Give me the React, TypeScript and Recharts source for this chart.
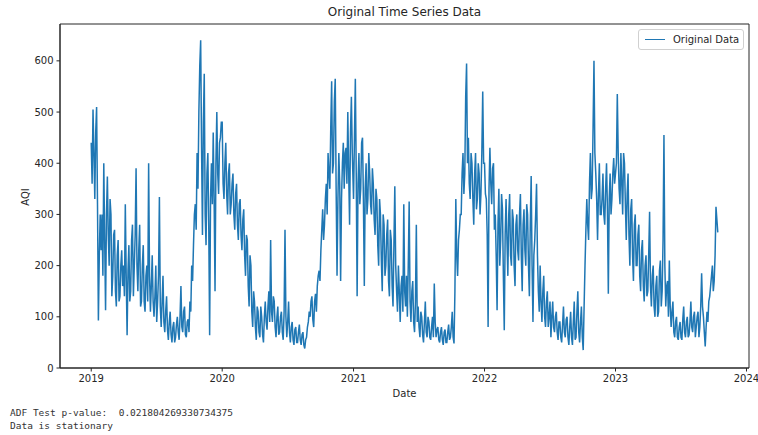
import React from "react";
import { LineChart, Line, XAxis, YAxis, ReferenceArea } from "recharts";

// AQI: one reading every 5 days from Jan 1 of each year
const aqi2019 = [
  440, 505, 330, 510, 93, 300,
  300, 400, 113, 374, 200, 300,
  180, 270, 120, 250, 140, 230,
  200, 320, 64, 240, 150, 280,
  200, 390, 150, 280, 130, 240,
  110, 200, 400, 110, 220, 100,
  200, 130, 334, 80, 180, 70,
  140, 55, 110, 50, 90, 60,
  100, 55, 160, 70, 120, 60,
  95, 130, 200, 240, 320, 420,
  500, 640, 260, 575, 240, 420,
  64, 400, 460, 150, 500, 340, 450,
];
const aqi2020 = [
  480, 330, 440, 300, 400, 320,
  380, 270, 360, 250, 330, 230,
  310, 180, 250, 120, 200, 80,
  130, 55, 110, 60, 100, 50,
  130, 75, 150, 250, 90, 130,
  60, 120, 70, 110, 55, 270,
  60, 130, 50, 90, 45, 80,
  50, 85, 45, 70, 38, 60,
  90, 100, 140, 80, 145, 160,
  190, 230, 310, 280, 360, 420,
  350, 560, 400, 565, 180, 420,
  170, 400, 350, 430, 500, 280, 530,
];
const aqi2021 = [
  330, 565, 140, 420, 350, 450,
  160, 400, 330, 380, 300, 360,
  260, 330, 200, 300, 150, 280,
  200, 290, 140, 250, 120, 355,
  150, 200, 90, 180, 320, 120,
  100, 325, 90, 170, 70, 280,
  120, 60, 100, 50, 130, 60,
  90, 55, 100, 165, 60, 80,
  50, 80, 45, 75, 50, 85,
  60, 110, 48, 330, 180, 270,
  300, 420, 380, 595, 450, 330,
  400, 280, 420, 330, 380, 340, 540,
];
const aqi2022 = [
  400, 330, 80, 430, 320, 400,
  300, 113, 350, 250, 310, 74,
  330, 180, 340, 200, 290, 160,
  300, 210, 340, 150, 310, 200,
  300, 140, 375, 90, 250, 360,
  150, 200, 90, 180, 80, 150,
  100, 60, 130, 70, 110, 55,
  90, 50, 120, 60, 100, 45,
  110, 45, 130, 60, 150, 50,
  120, 35, 200, 330, 250, 420,
  350, 600, 380, 250, 400, 300,
  380, 280, 400, 145, 380, 330, 410,
];
const aqi2023 = [
  380, 535, 350, 420, 300, 400,
  250, 380, 200, 330, 170, 300,
  200, 280, 150, 250, 130, 220,
  150, 305, 120, 200, 100, 180,
  110, 210, 150, 455, 120, 170,
  210, 80, 130, 60, 100, 55,
  90, 55, 120, 60, 100, 65,
  130, 70, 110, 80, 110, 80,
  185, 100, 42, 110, 130, 160,
  200, 170, 315, 265,
];

// readings taken half-way (2.5 days later) between the ones above
const mid2019 = [
  360, 420, 460, 320, 220, 230,
  180, 250, 300, 260, 330, 140,
  260, 150, 220, 130, 200, 160,
  140, 180, 190, 130, 250, 140,
  260, 200, 230, 120, 200, 130,
  180, 130, 180, 160, 130, 140,
  90, 180, 120, 130, 90, 110,
  75, 90, 65, 80, 50, 85,
  70, 100, 80, 110, 65, 90,
  70, 110, 170, 300, 270, 350,
  590, 430, 480, 300, 380, 280,
  330, 320, 330, 400, 380, 440, 480,
];
const mid2020 = [
  360, 400, 340, 380, 300, 360,
  300, 340, 280, 320, 260, 290,
  220, 260, 160, 220, 110, 150,
  80, 120, 70, 120, 65, 100,
  90, 120, 90, 110, 140, 80,
  100, 65, 100, 70, 110, 100,
  90, 70, 80, 55, 75, 50,
  70, 55, 65, 45, 55, 80,
  110, 130, 95, 130, 110, 180,
  170, 270, 250, 330, 300, 380,
  470, 380, 520, 350, 330, 360,
  330, 440, 420, 360, 380, 460, 420,
];
const mid2021 = [
  450, 380, 360, 320, 440, 330,
  350, 300, 420, 320, 390, 290,
  350, 240, 330, 210, 300, 180,
  260, 170, 270, 160, 240, 200,
  110, 150, 160, 110, 150, 180,
  200, 130, 150, 90, 130, 90,
  80, 110, 65, 90, 70, 100,
  60, 80, 60, 90, 75, 55,
  70, 55, 70, 50, 70, 55,
  80, 60, 150, 220, 250, 300,
  380, 340, 530, 400, 360, 420,
  330, 380, 310, 400, 300, 420, 400,
];
const mid2022 = [
  340, 260, 350, 360, 390, 270,
  220, 280, 200, 340, 180, 260,
  250, 300, 220, 310, 200, 280,
  230, 300, 220, 280, 230, 320,
  200, 280, 200, 220, 300, 220,
  110, 130, 150, 100, 130, 80,
  130, 100, 80, 100, 70, 90,
  60, 85, 70, 95, 60, 80,
  60, 90, 55, 110, 70, 90,
  60, 120, 270, 280, 360, 330,
  470, 420, 330, 340, 300, 330,
  300, 350, 310, 330, 300, 380, 360,
];
const mid2023 = [
  400, 420, 320, 360, 420, 320,
  340, 260, 310, 220, 280, 200,
  260, 180, 230, 160, 200, 140,
  220, 160, 180, 120, 160, 100,
  190, 120, 250, 200, 160, 100,
  120, 110, 70, 90, 60, 80,
  60, 95, 70, 90, 60, 90,
  80, 100, 60, 100, 60, 120,
  120, 70, 80, 90, 140, 180,
  150, 220, 290,
];

const mainSeries = [aqi2019, aqi2020, aqi2021, aqi2022, aqi2023];
const midSeries = [mid2019, mid2020, mid2021, mid2022, mid2023];
const yearStartDay = [0, 365, 731, 1096, 1461];
const STEP = 5;

const tickDays = [0, 365, 731, 1096, 1461, 1826];
const tickLabels = ["2019", "2020", "2021", "2022", "2023", "2024"];
const yTicks = [0, 100, 200, 300, 400, 500, 600];

const X_DOMAIN: [number, number] = [-87, 1833];
const Y_DOMAIN: [number, number] = [0, 672];

const data: { day: number; aqi: number }[] = [];
mainSeries.forEach((vals, yi) => {
  vals.forEach((v, k) => {
    const day = yearStartDay[yi] + k * STEP;
    data.push({ day, aqi: v });
    const m = midSeries[yi][k];
    if (m !== undefined) data.push({ day: day + STEP / 2, aqi: m });
  });
});

const FONT = "DejaVu Sans, sans-serif";
const INK = "#262626";

export default function App() {
  return (
    <div style={{ position: "absolute", left: 0, top: 0, width: 758, height: 435, background: "#fff", fontFamily: FONT }}>
      <LineChart
        width={758}
        height={435}
        data={data}
        margin={{ top: 24, right: 9, left: 20, bottom: 37 }}
      >
        <XAxis
          dataKey="day"
          type="number"
          domain={X_DOMAIN}
          allowDataOverflow
          ticks={tickDays}
          tickFormatter={(v: number) => tickLabels[tickDays.indexOf(v)]}
          tick={{ fill: INK, fontSize: 10, fontFamily: FONT }}
          tickLine={{ stroke: INK }}
          axisLine={{ stroke: INK }}
          tickSize={3.5}
          tickMargin={3}
          height={30}
          interval={0}
        />
        <YAxis
          type="number"
          domain={Y_DOMAIN}
          allowDataOverflow
          ticks={yTicks}
          tick={{ fill: INK, fontSize: 10, fontFamily: FONT }}
          tickLine={{ stroke: INK }}
          axisLine={{ stroke: INK }}
          tickSize={3.5}
          tickMargin={3}
          width={40}
          interval={0}
        />
        <Line
          type="linear"
          dataKey="aqi"
          stroke="#1f77b4"
          strokeWidth={1.5}
          dot={false}
          isAnimationActive={false}
        />
        <ReferenceArea
          x1={X_DOMAIN[0]}
          x2={X_DOMAIN[1]}
          y1={Y_DOMAIN[0]}
          y2={Y_DOMAIN[1]}
          fill="none"
          stroke={INK}
          strokeWidth={1}
          fillOpacity={0}
        />
      </LineChart>

      <div style={{ position: "absolute", left: 60, width: 689, top: 5, textAlign: "center", fontSize: 12, color: INK }}>
        Original Time Series Data
      </div>
      <div style={{ position: "absolute", left: 60, width: 689, top: 388, textAlign: "center", fontSize: 10, color: INK }}>
        Date
      </div>
      <div
        style={{
          position: "absolute", left: 25, top: 197, fontSize: 10, color: INK,
          transform: "translate(-50%, -50%) rotate(-90deg)", whiteSpace: "nowrap",
        }}
      >
        AQI
      </div>

      <div
        style={{
          position: "absolute", left: 638, top: 29, width: 106, height: 21,
          border: "1px solid #d0d0d0", borderRadius: 3, background: "rgba(255,255,255,0.8)",
          boxSizing: "border-box", display: "flex", alignItems: "center", fontSize: 10, color: INK,
        }}
      >
        <div style={{ width: 20, height: 0, borderTop: "1.5px solid #1f77b4", marginLeft: 6, marginRight: 8 }} />
        <span>Original Data</span>
      </div>

      <div
        style={{
          position: "absolute", left: 10, top: 406, fontFamily: "DejaVu Sans Mono, monospace",
          fontSize: 9.5, lineHeight: "13px", color: "#333", whiteSpace: "pre",
        }}
      >
        {"ADF Test p-value:  0.021804269330734375\nData is stationary"}
      </div>
    </div>
  );
}
